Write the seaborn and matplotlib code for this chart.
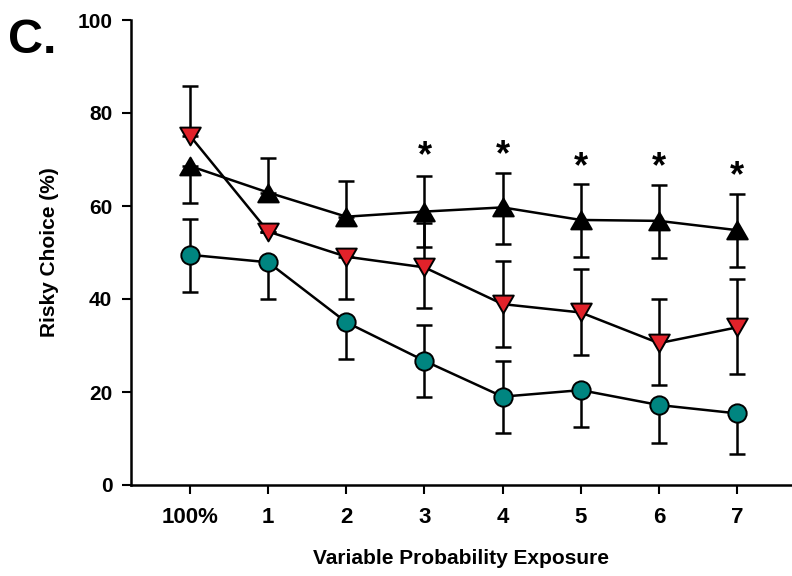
import numpy as np
import pandas as pd
import matplotlib
matplotlib.use("Agg")
import matplotlib.pyplot as plt
import seaborn as sns
from matplotlib.path import Path

# ---- data ----
categories = ['100%', '1', '2', '3', '4', '5', '6', '7']

black_mean = [68.6, 62.9, 57.7, 58.8, 59.7, 57.0, 56.8, 54.8]
black_err_low = [8.0, 0.0, 0.0, 7.7, 7.8, 7.9, 7.9, 8.0]
black_err_up = [0.0, 7.4, 7.7, 7.7, 7.5, 7.7, 7.7, 7.8]

red_mean = [75.1, 54.5, 49.1, 46.8, 38.9, 37.1, 30.5, 33.9]
red_err_low = [0.0, 0.0, 9.0, 8.8, 9.2, 9.1, 9.1, 10.1]
red_err_up = [10.6, 0.0, 0.0, 9.5, 9.2, 9.4, 9.4, 10.3]

teal_mean = [49.5, 47.9, 35.0, 26.7, 19.0, 20.4, 17.2, 15.4]
teal_err_low = [8.1, 7.9, 7.8, 7.8, 7.9, 8.0, 8.2, 8.7]
teal_err_up = [7.7, 0.0, 0.0, 7.7, 7.7, 0.0, 0.0, 0.0]

star_categories = ['3', '4', '5', '6', '7']
star_y = [71.7, 71.9, 69.3, 69.2, 67.4]

yticks = [0, 20, 40, 60, 80, 100]

# ---- style ----
sns.set_style("ticks")
plt.rcParams['font.family'] = ['Liberation Sans', 'DejaVu Sans']
plt.rcParams['font.weight'] = 'bold'
plt.rcParams['text.color'] = 'black'
plt.rcParams['axes.labelcolor'] = 'black'

RED = '#E1222A'
TEAL = '#008580'

tri_up = Path([(0, 0.866), (-1, -0.866), (1, -0.866), (0, 0.866)],
              [Path.MOVETO, Path.LINETO, Path.LINETO, Path.CLOSEPOLY])
tri_down = Path([(0, -0.866), (-1, 0.866), (1, 0.866), (0, -0.866)],
                [Path.MOVETO, Path.LINETO, Path.LINETO, Path.CLOSEPOLY])

fig = plt.figure(figsize=(7.92, 5.76), dpi=100)
ax = fig.add_axes([131 / 792, 91 / 576, 660 / 792, 465 / 576])

pos = np.arange(len(categories))
series = [
    (teal_mean, teal_err_low, teal_err_up, 'o', TEAL, 13.2),
    (red_mean, red_err_low, red_err_up, tri_down, RED, 14.8),
    (black_mean, black_err_low, black_err_up, tri_up, 'black', 14.8),
]

for mean, lo, up, mk, col, ms in series:
    ax.errorbar(pos, mean, yerr=[lo, up], fmt='none', ecolor='black',
                elinewidth=1.8, capsize=6, capthick=1.8, zorder=2)
    df = pd.DataFrame({'pos': pos, 'value': mean})
    sns.lineplot(data=df, x='pos', y='value', ax=ax, color='black',
                 linewidth=1.8, marker=mk, markersize=ms,
                 markerfacecolor=col, markeredgecolor='black',
                 markeredgewidth=1.4, errorbar=None, zorder=3)

for c, sy in zip(star_categories, star_y):
    ax.text(categories.index(c), sy - 1.0, '*', ha='center', va='center',
            fontsize=26, fontweight='bold', color='black')

ax.set_xlim(-0.755, 7.69)
ax.set_ylim(0, 100)
ax.set_xticks(pos)
ax.set_xticklabels(categories)
ax.set_yticks(yticks)
ax.set_yticklabels([str(v) for v in yticks])

sns.despine(ax=ax)
for s in ['left', 'bottom']:
    ax.spines[s].set_linewidth(1.8)
    ax.spines[s].set_color('black')
ax.tick_params(axis='both', direction='out', length=6.5, width=1.5,
               color='black', labelcolor='black')
ax.tick_params(axis='x', labelsize=16, pad=9.5)
ax.tick_params(axis='y', labelsize=15, pad=7)
for lab in ax.get_xticklabels() + ax.get_yticklabels():
    lab.set_fontweight('bold')

ax.set_xlabel('Variable Probability Exposure', fontsize=15,
              fontweight='bold', labelpad=15, color='black')
ax.set_ylabel('Risky Choice (%)', fontsize=15, fontweight='bold',
              labelpad=13, color='black')

fig.text(8 / 792, 1 - 53 / 576, 'C.', fontsize=35, fontweight='bold',
         ha='left', va='baseline', color='black')

fig.savefig('out.png', dpi=100)
